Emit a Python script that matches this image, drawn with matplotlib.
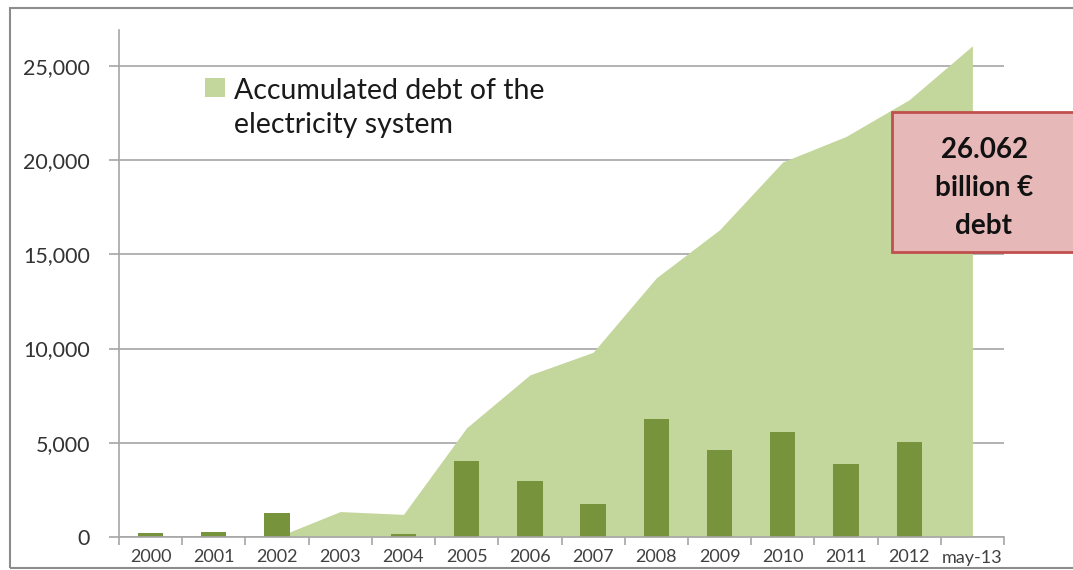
import matplotlib
matplotlib.use("Agg")
import matplotlib.pyplot as plt
from matplotlib.patches import Rectangle
import numpy as np

categories = ["2000", "2001", "2002", "2003", "2004", "2005", "2006", "2007",
              "2008", "2009", "2010", "2011", "2012", "may-13"]
accumulated_debt = [0, 0, 0, 1350, 1200, 5800, 8600, 9800, 13750, 16300,
                    19900, 21250, 23200, 26062]
annual_deficit = [220, 280, 1290, 0, 170, 4050, 2950, 1750, 6250, 4620,
                  5560, 3860, 5060, 0]
y_ticks = [0, 5000, 10000, 15000, 20000, 25000]
legend_label = "Accumulated debt of the\nelectricity system"
box_text = "26.062\nbillion €\ndebt"

AREA = "#c3d69b"
BAR = "#77933c"
GRID = "#a6a6a6"

plt.rcParams['font.family'] = ['Lato', 'DejaVu Sans']

W, H = 1073, 570
fig = plt.figure(figsize=(W / 100, H / 100), dpi=100)

def fx(px):
    return px / W

def fy(py):
    return 1 - py / H

ax = fig.add_axes([fx(119), fy(537), fx(1004) - fx(119), fy(30) - fy(537)])
x = np.arange(len(categories))
ax.fill_between(x, 0, accumulated_debt, color=AREA, linewidth=0, zorder=2)
ax.bar(x, annual_deficit, width=0.4, color=BAR, zorder=3)

ax.set_xlim(-0.5, len(categories) - 0.5)
ax.set_ylim(0, 26900)
ax.set_yticks(y_ticks)
ax.set_yticklabels([f"{v:,}" for v in y_ticks], fontsize=15.5, color="#333333")
ax.yaxis.grid(True, color=GRID, linewidth=1.2, zorder=1)
ax.set_axisbelow(True)

ax.set_xticks(x)
ax.set_xticklabels(categories, fontsize=13, color="#404040")
ax.set_xticks(np.arange(-0.5, len(categories)), minor=True)
ax.tick_params(axis='x', which='major', length=0, pad=9)
ax.tick_params(axis='x', which='minor', length=6, color=GRID, width=1.2)
ax.tick_params(axis='y', length=7, color=GRID, width=1.2, pad=14)

for s in ["top", "right"]:
    ax.spines[s].set_visible(False)
ax.spines["left"].set_color(GRID)
ax.spines["left"].set_linewidth(1.2)
ax.spines["bottom"].set_color(GRID)
ax.spines["bottom"].set_linewidth(1.2)
ax.spines["bottom"].set_zorder(4)

# legend (manual)
fig.patches.append(Rectangle((fx(205), fy(97)), fx(225) - fx(205), fy(78) - fy(97),
                             transform=fig.transFigure, facecolor=AREA,
                             edgecolor="none"))
fig.text(fx(234), fy(108), legend_label, fontsize=20.5, color="#1a1a1a",
         ha="left", va="center", linespacing=1.35)

# annotation box
fig.patches.append(Rectangle((fx(892), fy(252)), fx(1090) - fx(892), fy(112) - fy(252),
                             transform=fig.transFigure, facecolor="#e6b9b8",
                             edgecolor="#c0504d", linewidth=2, zorder=5))
fig.text(fx(984), fy(188), box_text, fontsize=20, fontweight="bold",
         color="#111111", ha="center", va="center", linespacing=1.55, zorder=6)

# outer frame
fig.patches.append(Rectangle((fx(10), fy(568)), fx(1100) - fx(10), fy(8) - fy(568),
                             transform=fig.transFigure, facecolor="none",
                             edgecolor="#8c8c8c", linewidth=1.5, zorder=0))

fig.savefig("out.png", dpi=100)
